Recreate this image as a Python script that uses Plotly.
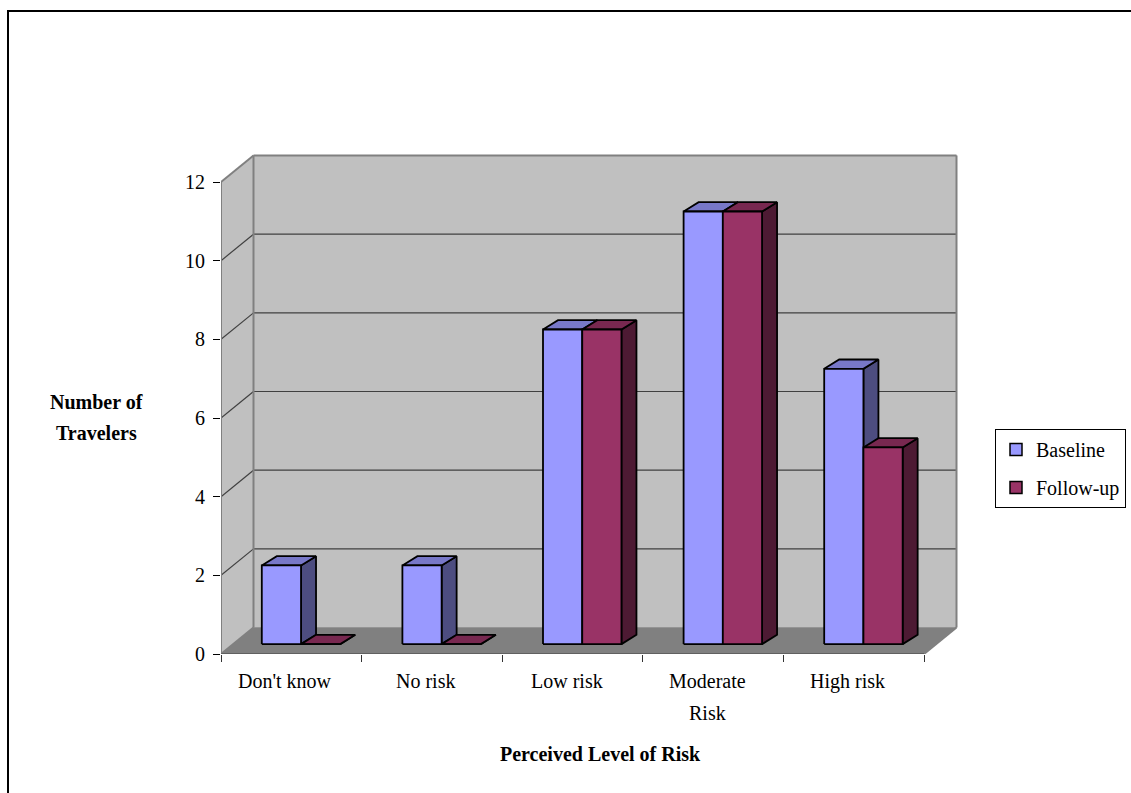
import plotly.graph_objects as go

# ---- data -------------------------------------------------------------
categories = ["Don't know", "No risk", "Low risk", "Moderate<br>Risk", "High risk"]
baseline = [2, 2, 8, 11, 7]
follow_up = [0, 0, 8, 11, 5]
series_names = ["Baseline", "Follow-up"]
y_ticks = [0, 2, 4, 6, 8, 10, 12]
y_grid = [2, 4, 6, 8, 10]

# ---- styling ----------------------------------------------------------
FONT = "Liberation Serif"
FRONT = ["#9999FF", "#993366"]
TOP = ["#7878C8", "#782850"]
SIDE = ["#4D4D80", "#4D1A33"]
WALL = "#C0C0C0"
FLOOR = "#808080"
EDGE = "#808080"
GRID = "#404040"

W, H = 1131, 793
ML, MR, MT, MB = 221, 171, 150, 139
CAT_PX = 140.6      # pixels per category slot
UNIT_PX = 39.33     # pixels per value unit
X_MAX = (W - ML - MR) / CAT_PX
Y_MAX = (H - MT - MB) / UNIT_PX

# oblique depth of the box (floor / walls) in data units
WALL_DX = 32.5 / CAT_PX
WALL_DY = 26.5 / UNIT_PX
# bars sit partway into the floor and have their own shallower depth
BAR_DEPTH0 = 0.373
BAR_GAP = 0.204
BAR_W = 0.279
BAR_DX = 15.0 / CAT_PX
BAR_DY = 9.3 / UNIT_PX

N = len(categories)
TOP_VAL = y_ticks[-1]


def px_to_paper_x(px):
    return (px - ML) / (W - ML - MR)


def px_to_paper_y(py):
    return (H - MB - py) / (H - MT - MB)


def polys_to_xy(polys):
    xs, ys = [], []
    for poly in polys:
        for x, y in poly:
            xs.append(x)
            ys.append(y)
        xs.append(poly[0][0])
        ys.append(poly[0][1])
        xs.append(None)
        ys.append(None)
    return xs, ys


def poly_trace(polys, fill, line_color, line_width):
    xs, ys = polys_to_xy(polys)
    return go.Scatter(
        x=xs, y=ys, mode="lines", fill="toself", fillcolor=fill,
        line=dict(color=line_color, width=line_width),
        hoverinfo="skip", showlegend=False,
    )


def line_trace(segments, color, width):
    xs, ys = [], []
    for (x0, y0), (x1, y1) in segments:
        xs += [x0, x1, None]
        ys += [y0, y1, None]
    return go.Scatter(x=xs, y=ys, mode="lines", line=dict(color=color, width=width),
                      hoverinfo="skip", showlegend=False)


fig = go.Figure()

# ---- box: side wall, back wall, floor -------------------------------
left_wall = [(0, 0), (WALL_DX, WALL_DY), (WALL_DX, TOP_VAL + WALL_DY), (0, TOP_VAL)]
back_wall = [(WALL_DX, WALL_DY), (N + WALL_DX, WALL_DY),
             (N + WALL_DX, TOP_VAL + WALL_DY), (WALL_DX, TOP_VAL + WALL_DY)]
floor = [(0, 0), (N, 0), (N + WALL_DX, WALL_DY), (WALL_DX, WALL_DY)]

fig.add_trace(poly_trace([left_wall], WALL, WALL, 0.5))
fig.add_trace(poly_trace([back_wall], WALL, WALL, 0.5))

# gridlines across the side wall and back wall
grid_segs = []
for v in y_grid:
    grid_segs.append(((0, v), (WALL_DX, v + WALL_DY)))
    grid_segs.append(((WALL_DX, v + WALL_DY), (N + WALL_DX, v + WALL_DY)))
fig.add_trace(line_trace(grid_segs, GRID, 1.2))

fig.add_trace(poly_trace([floor], FLOOR, FLOOR, 0.5))

# wall edges
edge_segs = [
    ((0, 0), (0, TOP_VAL)),
    ((0, TOP_VAL), (WALL_DX, TOP_VAL + WALL_DY)),
    ((WALL_DX, WALL_DY), (WALL_DX, TOP_VAL + WALL_DY)),
    ((WALL_DX, TOP_VAL + WALL_DY), (N + WALL_DX, TOP_VAL + WALL_DY)),
    ((N + WALL_DX, WALL_DY), (N + WALL_DX, TOP_VAL + WALL_DY)),
    ((0, 0), (WALL_DX, WALL_DY)),
    ((N, 0), (N + WALL_DX, WALL_DY)),
]
fig.add_trace(line_trace(edge_segs, EDGE, 2))
fig.add_trace(line_trace([((0, 0), (N, 0))], "#606060", 2))

# ---- 3-D bars -------------------------------------------------------
base = BAR_DEPTH0 * WALL_DY
for s, values in enumerate([baseline, follow_up]):
    fronts, tops, sides = [], [], []
    for i, v in enumerate(values):
        x0 = i + BAR_DEPTH0 * WALL_DX + BAR_GAP + s * BAR_W
        x1 = x0 + BAR_W
        y1 = base + v
        fronts.append([(x0, base), (x1, base), (x1, y1), (x0, y1)])
        tops.append([(x0, y1), (x1, y1), (x1 + BAR_DX, y1 + BAR_DY), (x0 + BAR_DX, y1 + BAR_DY)])
        sides.append([(x1, base), (x1 + BAR_DX, base + BAR_DY),
                      (x1 + BAR_DX, y1 + BAR_DY), (x1, y1)])
    fig.add_trace(poly_trace(sides, SIDE[s], "black", 1.8))
    fig.add_trace(poly_trace(tops, TOP[s], "black", 1.8))
    fig.add_trace(poly_trace(fronts, FRONT[s], "black", 1.8))

# legend entries
for s, name in enumerate(series_names):
    fig.add_trace(go.Scatter(
        x=[None], y=[None], mode="markers", name=name, legendgroup=name,
        marker=dict(symbol="square", size=12, color=FRONT[s],
                    line=dict(color="black", width=1.5)),
    ))

# ---- category labels and titles ---------------------------------------
annotations = []
LINE_GAP = 31.5
for i, cat in enumerate(categories):
    for k, part in enumerate(cat.split("<br>")):
        annotations.append(dict(
            x=i + 0.5, y=0, xref="x", yref="y", text=part, showarrow=False,
            xanchor="center", yanchor="middle", xshift=-6, yshift=-27 - k * LINE_GAP,
            font=dict(family=FONT, size=20, color="black"),
        ))

for k, part in enumerate(["Number of", "Travelers"]):
    annotations.append(dict(
        x=px_to_paper_x(96), y=px_to_paper_y(402 + k * 31), xref="paper", yref="paper",
        text="<b>%s</b>" % part, showarrow=False, xanchor="center", yanchor="middle",
        font=dict(family=FONT, size=20, color="black"),
    ))

annotations.append(dict(
    x=px_to_paper_x(600), y=px_to_paper_y(754), xref="paper", yref="paper",
    text="<b>Perceived Level of Risk</b>", showarrow=False, xanchor="center", yanchor="middle",
    font=dict(family=FONT, size=20, color="black"),
))

fig.update_layout(
    width=W, height=H,
    margin=dict(l=ML, r=MR, t=MT, b=MB, pad=0, autoexpand=False),
    paper_bgcolor="white", plot_bgcolor="white",
    font=dict(family=FONT, size=20, color="black"),
    xaxis=dict(range=[0, X_MAX], showgrid=False, zeroline=False, showline=False,
               tickvals=list(range(N + 1)), ticks="outside", ticklen=7, tickwidth=1,
               tickcolor="#333333", showticklabels=False, fixedrange=True),
    yaxis=dict(range=[0, Y_MAX], showgrid=False, zeroline=False, showline=False,
               tickvals=y_ticks, ticks="outside", ticklen=7, tickwidth=1,
               tickcolor="black", ticklabelstandoff=4,
               tickfont=dict(family=FONT, size=20, color="black"), fixedrange=True),
    showlegend=True,
    legend=dict(x=px_to_paper_x(995), y=px_to_paper_y(429), xanchor="left", yanchor="top",
                bgcolor="white", bordercolor="black", borderwidth=1,
                font=dict(family=FONT, size=20, color="black"), tracegroupgap=9),
    annotations=annotations,
    shapes=[dict(type="rect", xref="paper", yref="paper",
                 x0=px_to_paper_x(8), y0=px_to_paper_y(800),
                 x1=px_to_paper_x(1140), y1=px_to_paper_y(11),
                 line=dict(color="black", width=2), fillcolor="rgba(0,0,0,0)")],
)

fig.write_html("out.html")
